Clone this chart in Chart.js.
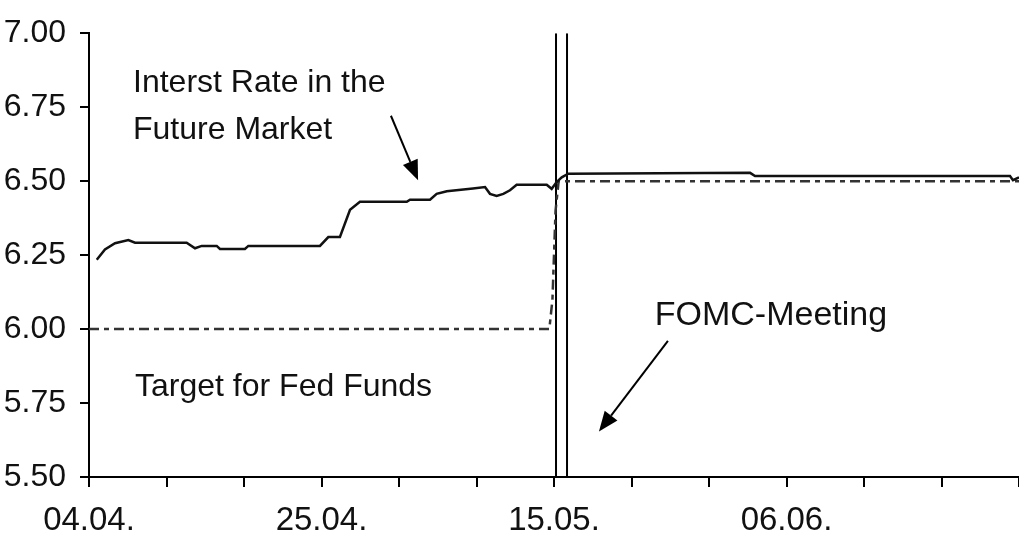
<!DOCTYPE html>
<html>
<head>
<meta charset="utf-8">
<script src="https://cdn.jsdelivr.net/npm/chart.js@4/dist/chart.umd.min.js"></script>
<style>
  html, body { margin: 0; padding: 0; background: #fff; }
  #wrap { width: 1019px; height: 538px; position: relative; }
</style>
</head>
<body>
<div id="wrap"><canvas id="c" width="1019" height="538"></canvas></div>
<script>
// Trading-day index (0 = 04.04.) and rate values
const futureDays  = [0.5, 1.03, 1.68, 2.54, 2.97, 6.30, 6.84, 7.27, 8.24, 8.45, 10.06, 10.28, 14.90, 15.44, 16.19, 16.84, 17.48, 20.50, 20.71, 22.0, 22.43, 23.08, 24.77, 25.55, 25.87, 26.30, 26.73, 27.16, 27.59, 29.53, 29.85, 30.17, 30.50, 30.92, 42.65, 42.97, 59.42, 59.61, 60];
const futureRates = [6.234, 6.269, 6.290, 6.301, 6.292, 6.292, 6.273, 6.281, 6.281, 6.271, 6.271, 6.281, 6.281, 6.311, 6.311, 6.403, 6.430, 6.430, 6.437, 6.437, 6.457, 6.466, 6.475, 6.480, 6.457, 6.450, 6.457, 6.469, 6.488, 6.488, 6.474, 6.497, 6.513, 6.525, 6.528, 6.517, 6.517, 6.503, 6.513];

const targetDays  = [0, 29.7, 29.9, 30.1, 30.3, 60];
const targetRates = [6.00, 6.00, 6.10, 6.40, 6.50, 6.50];

const meetingLineDays = [30.13, 30.84];

const tickLabels = { 0: '04.04.', 15: '25.04.', 30: '15.05.', 45: '06.06.' };

const annotationTexts = [
  { text: 'Interst Rate in the',  x: 2.84, y: 6.832, size: 32 },
  { text: 'Future Market',        x: 2.84, y: 6.671, size: 32 },
  { text: 'Target for Fed Funds', x: 2.97, y: 5.805, size: 32 },
  { text: 'FOMC-Meeting',         x: 36.5, y: 6.047, size: 34 }
];
const annotationArrows = [
  { from: [19.48, 6.721], to: [21.23, 6.503] },
  { from: [37.35, 5.960], to: [32.90, 5.654] }
];

const toXY = (xs, ys) => xs.map((x, i) => ({ x: x, y: ys[i] }));

const datasets = [
  {
    label: 'Interest Rate in the Future Market',
    data: toXY(futureDays, futureRates),
    borderColor: '#111', borderWidth: 2.5, pointRadius: 0, tension: 0, fill: false
  },
  {
    label: 'Target for Fed Funds',
    data: toXY(targetDays, targetRates),
    borderColor: '#333', borderWidth: 2.5, borderDash: [10, 5, 5, 5], pointRadius: 0, tension: 0, fill: false
  }
];
meetingLineDays.forEach((d, i) => {
  datasets.push({
    label: 'FOMC ' + i,
    data: [{ x: d, y: 5.5 }, { x: d, y: 7.0 }],
    borderColor: '#000', borderWidth: 2, pointRadius: 0, fill: false
  });
});

const annotationPlugin = {
  id: 'annot',
  afterDatasetsDraw(chart) {
    const ctx = chart.ctx, xs = chart.scales.x, ys = chart.scales.y;
    ctx.save();
    ctx.fillStyle = '#111';
    ctx.textBaseline = 'middle';
    ctx.textAlign = 'left';
    annotationTexts.forEach(a => {
      ctx.font = a.size + 'px "Liberation Sans", Arial, sans-serif';
      ctx.fillText(a.text, xs.getPixelForValue(a.x), ys.getPixelForValue(a.y));
    });
    ctx.strokeStyle = '#000';
    ctx.fillStyle = '#000';
    ctx.lineWidth = 2;
    annotationArrows.forEach(a => {
      const x1 = xs.getPixelForValue(a.from[0]), y1 = ys.getPixelForValue(a.from[1]);
      const x2 = xs.getPixelForValue(a.to[0]),   y2 = ys.getPixelForValue(a.to[1]);
      const ang = Math.atan2(y2 - y1, x2 - x1);
      const L = 20, W = 8;
      const bx = x2 - L * Math.cos(ang), by = y2 - L * Math.sin(ang);
      ctx.beginPath(); ctx.moveTo(x1, y1); ctx.lineTo(bx, by); ctx.stroke();
      ctx.beginPath();
      ctx.moveTo(x2, y2);
      ctx.lineTo(bx + W * Math.sin(ang), by - W * Math.cos(ang));
      ctx.lineTo(bx - W * Math.sin(ang), by + W * Math.cos(ang));
      ctx.closePath(); ctx.fill();
    });
    ctx.restore();
  }
};

new Chart(document.getElementById('c'), {
  type: 'line',
  data: { datasets: datasets },
  options: {
    responsive: false,
    animation: false,
    layout: { padding: { top: 30, right: 0, left: 0, bottom: 0 } },
    plugins: { legend: { display: false }, tooltip: { enabled: false } },
    scales: {
      x: {
        type: 'linear', min: 0, max: 60,
        afterFit(s) { s.height = 61; s.paddingRight = 0; },
        ticks: {
          stepSize: 5, autoSkip: false, maxRotation: 0, color: '#111', padding: 14,
          font: { family: '"Liberation Sans", Arial, sans-serif', size: 33 },
          callback: v => tickLabels[v] || ''
        },
        grid: { drawOnChartArea: false, drawTicks: true, tickLength: 10, color: '#000', lineWidth: 2 },
        border: { color: '#000', width: 2 }
      },
      y: {
        min: 5.5, max: 7.0,
        afterFit(s) { s.width = 89; },
        ticks: {
          stepSize: 0.25, color: '#111', padding: 14,
          font: { family: '"Liberation Sans", Arial, sans-serif', size: 32 },
          callback: v => v.toFixed(2)
        },
        grid: { drawOnChartArea: false, drawTicks: true, tickLength: 9, color: '#000', lineWidth: 2 },
        border: { color: '#000', width: 2 }
      }
    }
  },
  plugins: [annotationPlugin]
});
</script>
</body>
</html>
